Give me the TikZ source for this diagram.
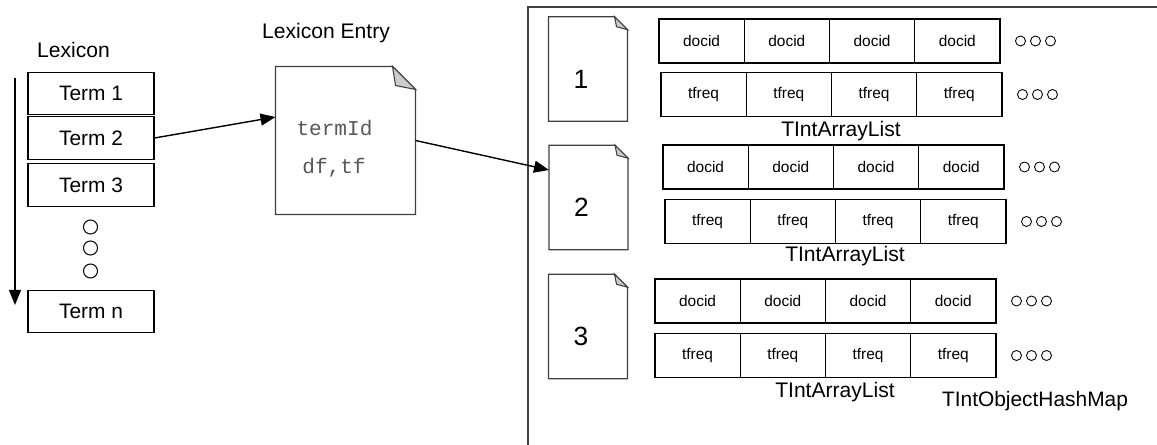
\documentclass[tikz,border=0pt]{standalone}
\usepackage{fontspec}
\setmainfont{Liberation Sans}
\setmonofont{Liberation Mono}
\usetikzlibrary{arrows.meta,calc}
\begin{document}
\begin{tikzpicture}[x=0.02cm,y=-0.02cm,line width=0.6pt,
  >={Triangle[length=0.3cm,width=0.24cm]},
  termbox/.style={draw,minimum width=2.52cm,minimum height=0.85cm,inner sep=0pt,font=\fontsize{11.9}{14}\selectfont},
  cell/.style={draw,minimum width=1.705cm,minimum height=0.88cm,inner sep=0pt,font=\fontsize{8.8}{10}\selectfont},
  page/.style={minimum width=1.56cm,minimum height=2.07cm,inner sep=0pt},
  pageline/.style={draw=black!75,fill=white},
  fold/.style={draw=black!75,fill=black!20},
  big/.style={font=\fontsize{12}{14}\selectfont,inner sep=0pt}]
\useasboundingbox (0,0) rectangle (1157,445);
% lexicon
\node[big,anchor=base] (lex) at (73.5,58) {Lexicon};
\node[termbox] (t1) at (91,93.5) {Term 1};
\node[termbox] (t2) at (91,138) {Term 2};
\node[termbox] (t3) at (91,185) {Term 3};
\node[termbox] (tn) at (91,311.5) {Term n};
\foreach \y in {227,248,271} \draw (90.5,\y) circle[radius=0.14cm];
\coordinate (down1) at (15,78); \coordinate (down2) at (15,305);
\draw[->,line width=0.8pt] (down1)--(down2);
% lexicon entry
\node[big,anchor=base] (ltitle) at (326,39) {Lexicon Entry};
\node[minimum width=2.78cm,minimum height=2.94cm,inner sep=0pt] (entry) at (345.5,140.5) {};
\draw[pageline] (entry.south west)--(entry.north west)--($(entry.north east)+(-23,0)$)--($(entry.north east)+(0,23)$)--(entry.south east)--cycle;
\draw[fold] ($(entry.north east)+(-23,0)$)--($(entry.north east)+(-20,19)$)--($(entry.north east)+(0,23)$)--cycle;
\node[font=\ttfamily\fontsize{12}{14}\selectfont,text=black!65] (tid) at (334.5,128) {termId};
\node[font=\ttfamily\fontsize{12}{14}\selectfont,text=black!65] (dftf) at (334,168) {df,tf};
\draw[->,line width=0.8pt] (t2.east)--([yshift=0.47cm]entry.west);
% hash map
\draw[black!75] (528,445)--(528,7)--(1157,7);
\foreach \n/\px/\py in {1/588/69,2/588.5/197.5,3/588/326.5}{
  \node[page] (p\n) at (\px,\py) {};
  \draw[pageline] (p\n.south west)--(p\n.north west)--($(p\n.north east)+(-13,0)$)--($(p\n.north east)+(0,13)$)--(p\n.south east)--cycle;
  \draw[fold] ($(p\n.north east)+(-13,0)$)--($(p\n.north east)+(-11,10)$)--($(p\n.north east)+(0,13)$)--cycle;
  \node[font=\fontsize{15}{17}\selectfont] (num\n) at ($(p\n)+(-7,10)$) {\n};
}
\foreach \n/\xa/\ya/\xb/\yb/\lx/\ly in {1/659/19/661/72/841/137,2/663/145/665/199/845/262,3/655/279/655/333/835/398}{
  \foreach \i in {0,...,3}{
    \node[cell] (d\n\i) at ({\xa+42.6+85.25*\i},\ya+22) {docid};
    \node[cell] (f\n\i) at ({\xb+42.6+85.25*\i},\yb+22.5) {tfreq};
  }
  \foreach \k in {0,1,2}{
    \draw[line width=0.5pt] ($(d\n3.east)+(20+15*\k,0)$) circle[radius=0.1cm];
    \draw[line width=0.5pt] ($(f\n3.east)+(20+15*\k,0)$) circle[radius=0.1cm];
  }
  \node[big,anchor=base] (arr\n) at (\lx,\ly) {TIntArrayList};
}
\node[font=\fontsize{11.9}{14}\selectfont,inner sep=0pt,anchor=base] (hmap) at (1035,407) {TIntObjectHashMap};
\draw[->,line width=0.8pt] (entry.east)--([yshift=0.55cm]p2.west);
\end{tikzpicture}
\end{document}
